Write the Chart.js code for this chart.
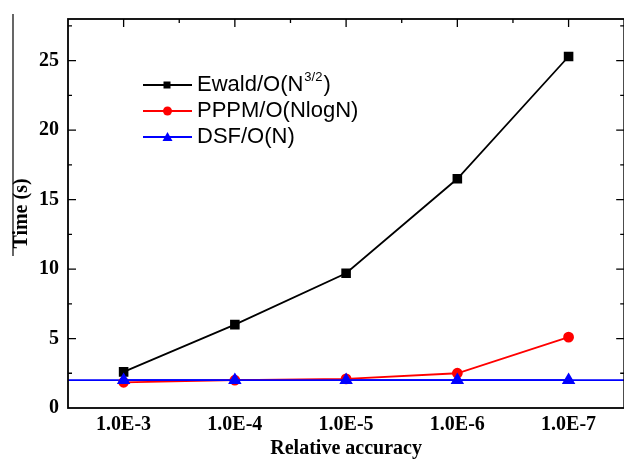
<!DOCTYPE html>
<html>
<head>
<meta charset="utf-8">
<script src="https://cdn.jsdelivr.net/npm/chart.js@4"></script>
<style>
  html, body { margin: 0; padding: 0; background: #fff; overflow: hidden; }
  #wrap { width: 632px; height: 459px; }
</style>
</head>
<body>
<div id="wrap"><canvas id="timeChart" width="632" height="459"></canvas></div>
<script>
const categories = ['1.0E-3', '1.0E-4', '1.0E-5', '1.0E-6', '1.0E-7'];
const ewaldTimes = [2.6, 6.0, 9.7, 16.5, 25.3];
const pppmTimes = [1.85, 2.0, 2.1, 2.5, 5.1];
const dsfTimes = [2.0, 2.0, 2.0, 2.0, 2.0];
const yTickValues = [0, 5, 10, 15, 20, 25];
const yMax = 28;

const serifBold = { family: '"Liberation Serif", "Times New Roman", serif', size: 20, weight: 'bold', lineHeight: 1 };

// legend rows: name, superscript, trailing text, colour, marker
const legendRows = [
    { text: 'Ewald/O(N', sup: '3/2', tail: ')', color: '#000000', marker: 'rect' },
    { text: 'PPPM/O(NlogN)', sup: '', tail: '', color: '#ff0000', marker: 'circle' },
    { text: 'DSF/O(N)', sup: '', tail: '', color: '#0000ff', marker: 'triangle' }
];

const framePlugin = {
    id: 'frame',
    beforeDatasetsDraw(chart) {
        // DSF line runs flat across the whole plot
        const { ctx, chartArea, scales } = chart;
        const yPix = scales.y.getPixelForValue(dsfTimes[0]);
        ctx.save();
        ctx.strokeStyle = '#0000ff';
        ctx.lineWidth = 1.8;
        ctx.beginPath();
        ctx.moveTo(chartArea.left, yPix);
        ctx.lineTo(chartArea.right, yPix);
        ctx.stroke();
        ctx.restore();
    },
    afterDraw(chart) {
        const { ctx, chartArea, scales } = chart;
        const { left, right, top, bottom } = chartArea;
        ctx.save();
        ctx.strokeStyle = '#000';
        ctx.lineWidth = 1.8;
        ctx.strokeRect(left, top, right - left, bottom - top);

        ctx.lineWidth = 1.3;
        ctx.beginPath();
        // y ticks, left and right, pointing in
        for (let v = 0; v <= yMax; v += 2.5) {
            if (v === 0) continue;
            const y = scales.y.getPixelForValue(v);
            const len = v % 5 === 0 ? 8 : 4;
            ctx.moveTo(left, y); ctx.lineTo(left + len, y);
            ctx.moveTo(right, y); ctx.lineTo(right - len, y);
        }
        // top ticks at categories and midway
        for (let i = 0; i < categories.length; i++) {
            const x = scales.x.getPixelForValue(i);
            ctx.moveTo(x, top); ctx.lineTo(x, top + 8);
            if (i < categories.length - 1) {
                const xm = (x + scales.x.getPixelForValue(i + 1)) / 2;
                ctx.moveTo(xm, top); ctx.lineTo(xm, top + 4);
            }
        }
        ctx.stroke();

        // stray rule on the far left
        ctx.lineWidth = 1.2;
        ctx.beginPath();
        ctx.moveTo(13, 14);
        ctx.lineTo(13, 256);
        ctx.stroke();

        // legend
        const rowY = [85, 111, 137];
        legendRows.forEach((row, i) => {
            const y = rowY[i];
            ctx.strokeStyle = row.color;
            ctx.fillStyle = row.color;
            ctx.lineWidth = 1.8;
            ctx.beginPath();
            ctx.moveTo(143, y); ctx.lineTo(192, y);
            ctx.stroke();
            ctx.beginPath();
            if (row.marker === 'rect') {
                ctx.rect(163.5, y - 3.5, 7, 7);
            } else if (row.marker === 'circle') {
                ctx.arc(167.5, y, 4.5, 0, Math.PI * 2);
            } else {
                ctx.moveTo(167.5, y - 5); ctx.lineTo(172.5, y + 4); ctx.lineTo(162.5, y + 4); ctx.closePath();
            }
            ctx.fill();

            ctx.fillStyle = '#000';
            ctx.textBaseline = 'middle';
            ctx.textAlign = 'left';
            ctx.font = '22px "Liberation Sans", Arial, sans-serif';
            let x = 197;
            ctx.fillText(row.text, x, y);
            x += ctx.measureText(row.text).width;
            if (row.sup) {
                ctx.font = '13px "Liberation Sans", Arial, sans-serif';
                ctx.fillText(row.sup, x + 1, y - 8);
                x += ctx.measureText(row.sup).width + 2;
                ctx.font = '22px "Liberation Sans", Arial, sans-serif';
                ctx.fillText(row.tail, x, y);
            }
        });
        ctx.restore();
    }
};

new Chart(document.getElementById('timeChart'), {
    type: 'line',
    data: {
        labels: categories,
        datasets: [
            { label: 'DSF/O(N)', data: dsfTimes, borderColor: '#0000ff', backgroundColor: '#0000ff', borderWidth: 1.8, pointStyle: 'triangle', pointRadius: 6, order: 0 },
            { label: 'PPPM/O(NlogN)', data: pppmTimes, borderColor: '#ff0000', backgroundColor: '#ff0000', borderWidth: 1.8, pointStyle: 'circle', pointRadius: 4.5, order: 1 },
            { label: 'Ewald/O(N3/2)', data: ewaldTimes, borderColor: '#000000', backgroundColor: '#000000', borderWidth: 1.8, pointStyle: 'rect', pointRadius: 5.5, order: 2 }
        ]
    },
    options: {
        responsive: false,
        animation: false,
        layout: { padding: { top: 15, right: 4, left: 0, bottom: 0 } },
        plugins: { legend: { display: false }, tooltip: { enabled: false } },
        elements: { line: { tension: 0 } },
        scales: {
            x: {
                offset: true,
                grid: { display: false, drawTicks: false },
                border: { display: false },
                ticks: { color: '#000', font: serifBold, padding: 7, maxRotation: 0 },
                title: { display: true, text: 'Relative accuracy', color: '#000', font: serifBold, padding: { top: 0, bottom: 0 } },
                afterFit(scale) { scale.height = 51; }
            },
            y: {
                min: 0,
                max: yMax,
                grid: { display: false, drawTicks: false },
                border: { display: false },
                ticks: { color: '#000', font: serifBold, padding: 9 },
                afterBuildTicks(scale) { scale.ticks = yTickValues.map(v => ({ value: v })); },
                title: { display: true, text: 'Time (s)', color: '#000', font: serifBold, padding: { top: 12, bottom: 0 } },
                afterFit(scale) { scale.width = 68; }
            }
        }
    },
    plugins: [framePlugin]
});
</script>
</body>
</html>
